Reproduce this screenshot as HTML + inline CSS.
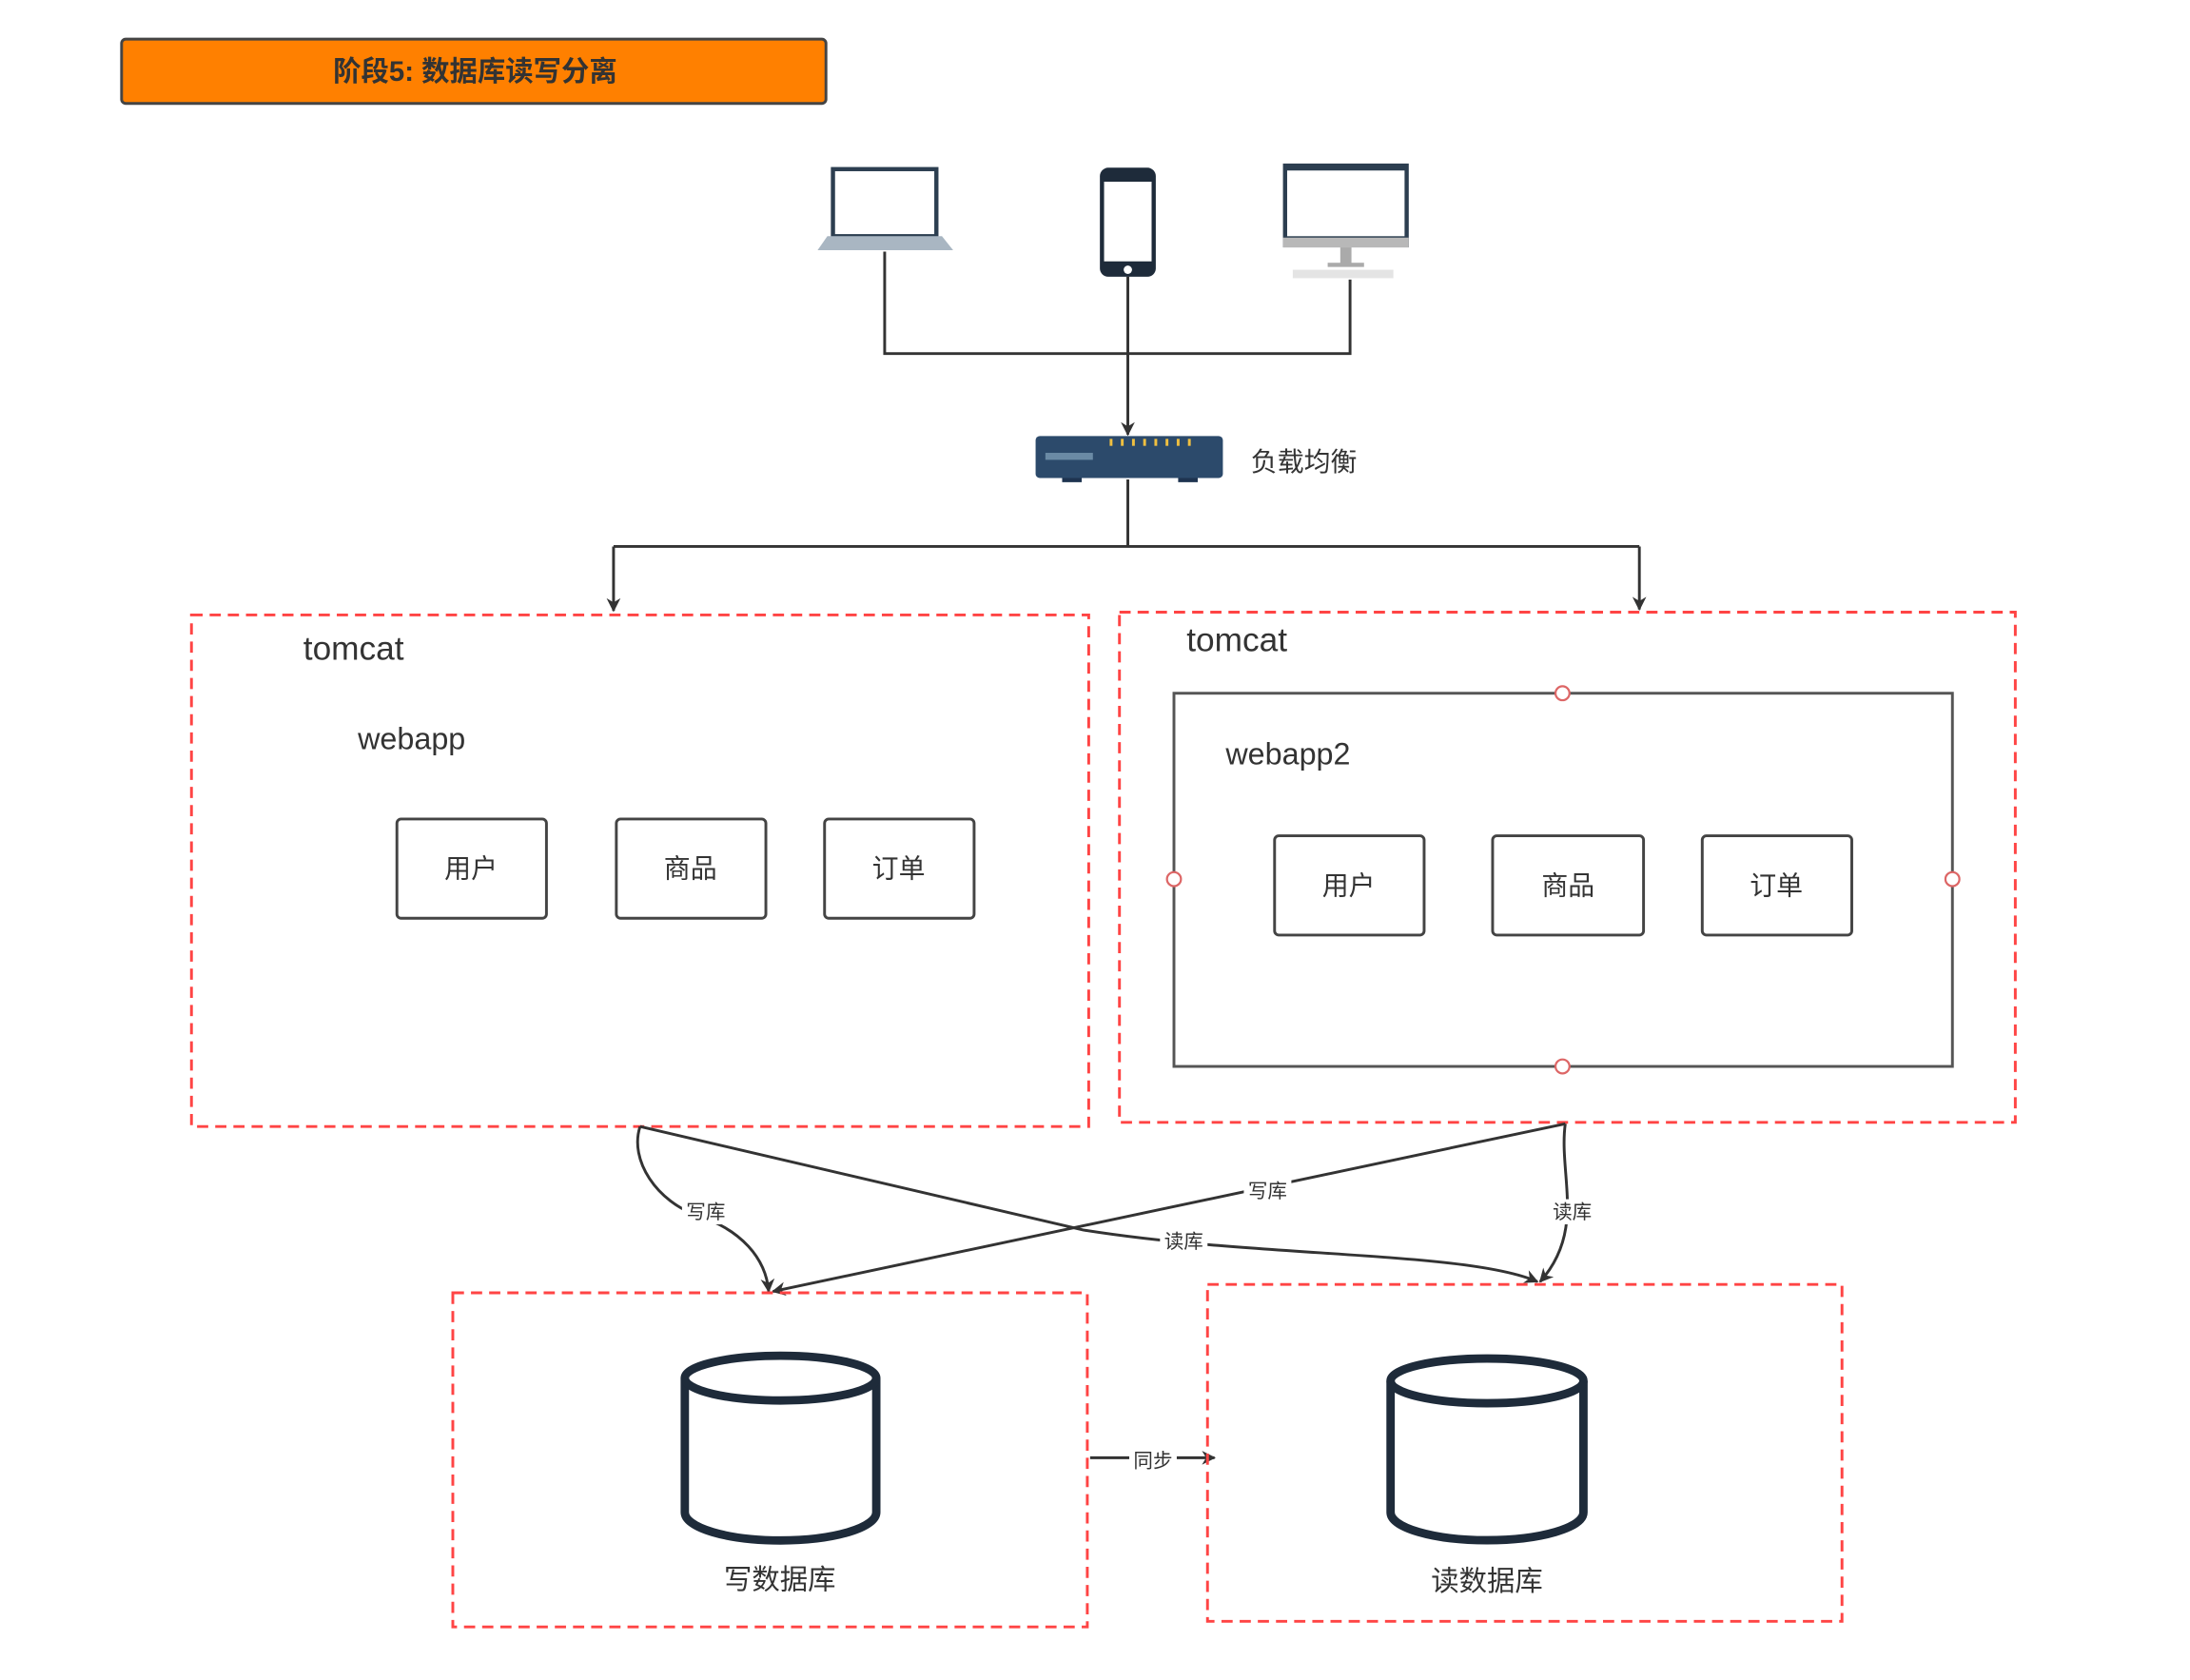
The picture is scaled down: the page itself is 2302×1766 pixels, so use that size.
<!DOCTYPE html>
<html><head><meta charset="utf-8"><style>
html,body{margin:0;padding:0;background:#fff;}
svg{display:block;}
text{font-family:"Liberation Sans","Noto Sans CJK SC",sans-serif;fill:#333;}
</style></head><body>
<svg width="2302" height="1766" viewBox="0 0 1567 1202" preserveAspectRatio="none" xmlns="http://www.w3.org/2000/svg">
<defs>
<marker id="ar" markerWidth="10" markerHeight="10" refX="9" refY="5" orient="auto" markerUnits="userSpaceOnUse">
<path d="M0,0 L10,5 L0,10 L3,5 Z" fill="#333"/></marker>
</defs>
<rect x="87" y="28" width="504" height="46" rx="3" fill="#FF8000" stroke="#444" stroke-width="2"/>
<text x="340" y="58" font-size="20" font-weight="bold" text-anchor="middle">阶段5: 数据库读写分离</text>

<rect x="596" y="121" width="74" height="48" fill="#fff" stroke="#2c3e50" stroke-width="3"/>
<path d="M592,169 L674,169 L682,179 L585,179 Z" fill="#a9b6c2"/>
<rect x="787" y="120" width="40" height="78" rx="6" fill="#1e2b3a"/>
<rect x="790" y="130" width="34" height="57" fill="#fff"/>
<circle cx="807" cy="193" r="3" fill="#fff"/>
<rect x="918" y="117" width="90" height="60" fill="#2c3e50"/>
<rect x="921" y="122" width="84" height="47" fill="#fff"/>
<rect x="918" y="170" width="90" height="7" fill="#b8b8b8"/>
<rect x="959" y="177" width="8" height="12" fill="#aaa"/>
<rect x="950" y="188" width="26" height="3" fill="#aaa"/>
<rect x="925" y="193" width="72" height="6" fill="#e4e4e4"/>

<g stroke="#333" stroke-width="2" fill="none">
<path d="M633,180 V253 H966 V200"/>
<path d="M807,198 V311" marker-end="url(#ar)"/>
<path d="M807,343 V391"/>
<path d="M439,391 H1173"/>
<path d="M439,391 V437" marker-end="url(#ar)"/>
<path d="M1173,391 V436" marker-end="url(#ar)"/>
</g>

<rect x="741" y="312" width="134" height="30" rx="3" fill="#2c4a6b"/>
<rect x="748" y="324" width="34" height="5" fill="#6a8aa5"/>
<g fill="#f0c040"><rect x="794" y="314" width="2" height="5"/><rect x="802" y="314" width="2" height="5"/><rect x="810" y="314" width="2" height="5"/><rect x="818" y="314" width="2" height="5"/><rect x="826" y="314" width="2" height="5"/><rect x="834" y="314" width="2" height="5"/><rect x="842" y="314" width="2" height="5"/><rect x="850" y="314" width="2" height="5"/></g>
<rect x="760" y="342" width="14" height="3" fill="#1e3450"/><rect x="843" y="342" width="14" height="3" fill="#1e3450"/>
<text x="895" y="337" font-size="19">负载均衡</text>

<rect x="137" y="440" width="642" height="366" fill="none" stroke="#f44" stroke-width="2" stroke-dasharray="8,5"/>
<text x="217" y="472" font-size="24">tomcat</text>
<text x="256" y="536" font-size="22">webapp</text>
<g fill="#fff" stroke="#444" stroke-width="2">
<rect x="284" y="586" width="107" height="71" rx="3"/>
<rect x="441" y="586" width="107" height="71" rx="3"/>
<rect x="590" y="586" width="107" height="71" rx="3"/>
</g>
<g font-size="19" text-anchor="middle">
<text x="337" y="628">用户</text><text x="494" y="628">商品</text><text x="643" y="628">订单</text>
</g>

<rect x="801" y="438" width="641" height="365" fill="none" stroke="#f44" stroke-width="2" stroke-dasharray="8,5"/>
<text x="849" y="466" font-size="24">tomcat</text>
<rect x="840" y="496" width="557" height="267" fill="none" stroke="#555" stroke-width="2"/>
<g fill="#fff" stroke="#d66" stroke-width="1.5">
<circle cx="1118" cy="496" r="5"/><circle cx="840" cy="629" r="5"/><circle cx="1397" cy="629" r="5"/><circle cx="1118" cy="763" r="5"/>
</g>
<text x="877" y="547" font-size="22">webapp2</text>
<g fill="#fff" stroke="#444" stroke-width="2">
<rect x="912" y="598" width="107" height="71" rx="3"/>
<rect x="1068" y="598" width="108" height="71" rx="3"/>
<rect x="1218" y="598" width="107" height="71" rx="3"/>
</g>
<g font-size="19" text-anchor="middle">
<text x="965" y="640">用户</text><text x="1122" y="640">商品</text><text x="1271" y="640">订单</text>
</g>

<g stroke="#333" stroke-width="2" fill="none">
<path d="M458,806 C450,830 470,860 500,870 C530,880 548,900 550,924" marker-end="url(#ar)"/>
<path d="M458,806 L775,880 C900,900 1050,895 1100,917" marker-end="url(#ar)"/>
<path d="M1120,804 L553,924" marker-end="url(#ar)"/>
<path d="M1120,804 C1115,840 1135,880 1102,917" marker-end="url(#ar)"/>
<path d="M780,1043 H869" marker-end="url(#ar)"/>
</g>
<g font-size="14" text-anchor="middle">
<rect x="488" y="858" width="34" height="18" fill="#fff"/><text x="505" y="872">写库</text>
<rect x="830" y="879" width="34" height="18" fill="#fff"/><text x="847" y="893">读库</text>
<rect x="890" y="843" width="34" height="18" fill="#fff"/><text x="907" y="857">写库</text>
<rect x="1108" y="858" width="34" height="18" fill="#fff"/><text x="1125" y="872">读库</text>
<rect x="808" y="1036" width="34" height="18" fill="#fff"/><text x="825" y="1050">同步</text>
</g>

<rect x="324" y="925" width="454" height="239" fill="none" stroke="#f44" stroke-width="2" stroke-dasharray="8,5"/>
<rect x="864" y="919" width="454" height="241" fill="none" stroke="#f44" stroke-width="2" stroke-dasharray="8,5"/>
<g fill="none" stroke="#1e2b3a" stroke-width="6">
<path d="M490,986 V1082 A68,20 0 0 0 627,1082 V986"/>
<ellipse cx="558.5" cy="986" rx="68.5" ry="16"/>
<path d="M995,988 V1082 A69,20 0 0 0 1133,1082 V988"/>
<ellipse cx="1064" cy="988" rx="69" ry="16"/>
</g>
<text x="558" y="1137" font-size="20" text-anchor="middle">写数据库</text>
<text x="1064" y="1138" font-size="20" text-anchor="middle">读数据库</text>
</svg>
</body></html>
